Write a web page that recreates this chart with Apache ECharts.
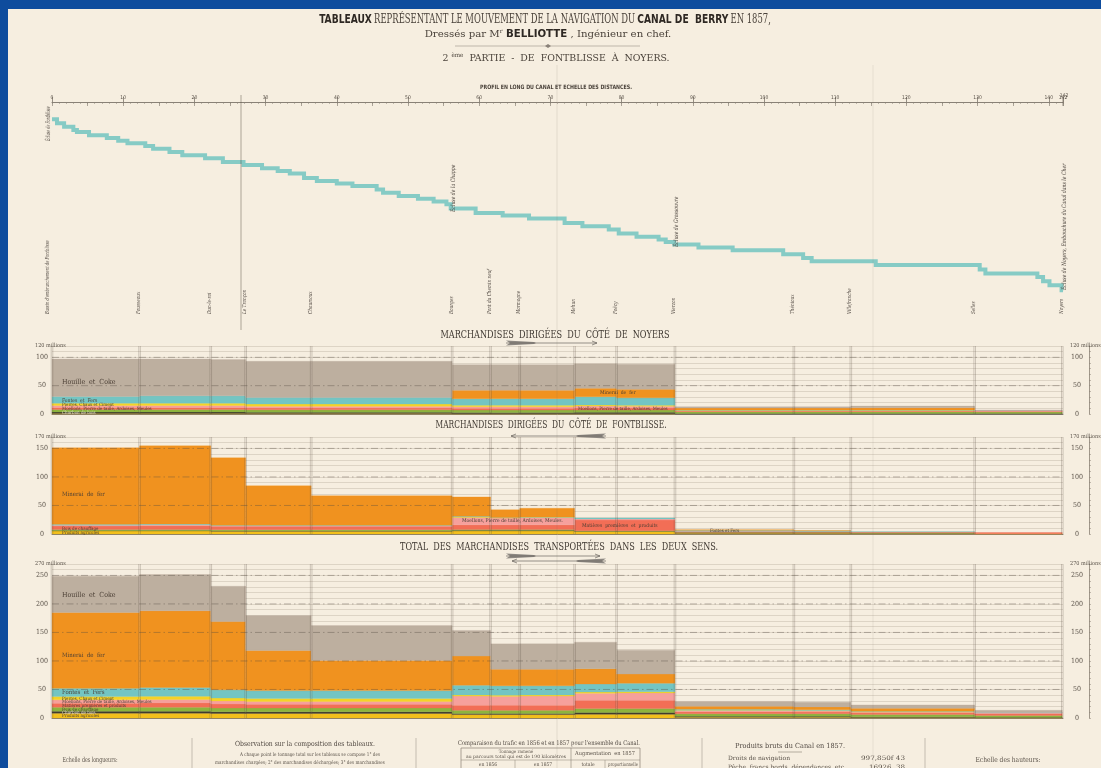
<!DOCTYPE html>
<html lang="fr">
<head>
<meta charset="utf-8">
<title>Canal de Berry 1857</title>
<script src="https://cdn.jsdelivr.net/npm/echarts@6/dist/echarts.min.js"></script>
<style>
  html, body { margin: 0; padding: 0; background: #f6eee0; overflow: hidden; }
  #chart { width: 1101px; height: 768px; }
  .bord { position: absolute; background: #0e4c9d; }
</style>
</head>
<body>
<div id="chart"></div>
<div class="bord" style="left:0;top:0;width:8px;height:768px"></div>
<div class="bord" style="left:0;top:0;width:1101px;height:9px"></div>
<script>
// stations along the canal, km from Fontblisse
const stationKm = [0, 12.3, 22.3, 27.2, 36.4, 56.2, 61.6, 65.7, 73.4, 79.3, 87.5, 104.2, 112.2, 129.6, 141.9];
const stationNames = ["Bassin d'embranchement de Fontblisse", 'Fousseaux', 'Dun-le-roi', 'Le Tronçon', 'Chaumoux',
  'Bourges', 'Pont du Chemin neuf', 'Marmagne', 'Mehun', 'Foëcy', 'Vierzon', 'Thénioux', 'Villefranche', 'Selles', 'Noyers'];

// profil en long : start of each reach (km) and water level (m)
const biefKm = [0, 0.7, 1.7, 3.0, 3.5, 5.2, 7.7, 9.3, 10.6, 13.1, 14.2, 16.5, 18.3, 21.5, 24.0, 26.9, 29.5, 31.7, 33.4, 35.4,
  37.2, 40.0, 42.2, 45.6, 46.5, 48.7, 51.4, 53.6, 55.4, 56.0, 59.5, 63.3, 67.0, 72.0, 74.5, 78.2, 79.6, 82.1, 85.2, 86.2,
  87.4, 90.8, 95.6, 102.7, 105.5, 106.7, 115.7, 130.3, 131.1, 138.4, 139.2, 140.1, 141.8];
const biefCote = [174.1, 171.6, 169.5, 167.4, 166.1, 164.0, 162.3, 160.6, 159.0, 157.3, 155.6, 153.5, 151.4, 149.5, 147.2,
  145.3, 143.2, 141.5, 140.0, 137.1, 135.2, 133.7, 132.0, 129.9, 127.8, 125.7, 124.0, 122.3, 120.6, 117.9, 115.1, 113.5,
  111.6, 108.8, 106.7, 104.7, 102.1, 100.0, 98.3, 96.8, 95.2, 93.3, 91.6, 89.1, 86.7, 84.6, 82.3, 79.4, 76.9, 74.7, 72.0,
  69.5, 66.3];
const canalEndKm = 142;

const ecluses = ['Écluse de Fontblisse', 'Écluse de la Chappe', 'Écluse de Grossouvre', 'Écluse de Noyers, Embouchure du Canal dans le Cher'];
const ecluseKm = [0, 56.2, 87.5, 141.9];

// goods, stacked bottom to top
const categories = ['Produits agricoles', 'Charbon de bois', 'Bois de chauffage', 'Matières premières et produits',
  'Moellons, Pierre de taille, Ardoises, Meules', 'Pierres, Chaux et Ciment', 'Fontes et Fers', 'Minerai de fer', 'Houille et Coke'];

// tonnage per section (14 sections between the 15 stations), one row per category
const versNoyers = [
  [1, 1, 1, 1, 1, 0.5, 0.5, 0.5, 0.5, 0.5, 0, 0, 0, 0],
  [2.5, 2.5, 2.5, 2, 2, 2, 2, 2, 2.5, 2.5, 1, 1, 1, 1],
  [4.5, 4.5, 4.5, 4.5, 4.5, 4.5, 4.5, 4.5, 4, 4, 3, 3, 3, 2.5],
  [3.5, 3.5, 3.5, 3, 3, 3, 3, 3, 3.5, 3.5, 1.5, 1.5, 1.5, 1.5],
  [3.5, 3.5, 3.5, 3, 3, 3, 3, 3, 3.5, 3, 0.5, 0.5, 0.5, 0.5],
  [4, 4, 4, 4, 4, 2.5, 2.5, 2.5, 2, 2, 0.5, 0.5, 0.5, 0],
  [12, 13, 13, 11.5, 11.5, 11.5, 11.5, 11.5, 14.5, 13, 0.5, 0.5, 0.5, 0],
  [0, 0, 0, 0, 0, 15, 15, 15, 15, 15, 3.5, 3.5, 4, 0],
  [66, 65, 64, 64, 64, 45, 45, 45, 43, 44.5, 2.5, 2.5, 3, 1.5]
];
const versFontblisse = [
  [5.5, 5.5, 5, 5, 5, 5.5, 5.5, 5.5, 4.5, 4.5, 1.5, 1.5, 1, 0.5],
  [0.5, 0.5, 0.5, 0.5, 0.5, 1, 1, 1, 0.5, 0.5, 1, 1, 0.5, 0],
  [2, 2, 2, 2, 2, 1.5, 1.5, 1.5, 0.5, 0.5, 0.5, 0.5, 0.5, 0],
  [6, 6.5, 6, 6, 6, 8, 8, 8, 19, 19, 1.5, 1, 1.5, 2],
  [1.5, 1.5, 1, 1, 1, 13, 12, 13, 2, 2, 0.5, 0.5, 0, 0],
  [0, 0, 0, 0, 0, 1, 0.5, 0.5, 0, 0, 0, 0, 0, 0],
  [1.5, 1.5, 1, 1, 1, 1, 0.5, 0.5, 1.5, 1.5, 1.5, 1, 0.5, 0],
  [134, 137, 118, 69, 51.5, 34, 13.5, 15, 0, 0, 1, 0.5, 0, 0],
  [0, 0, 0, 0, 0, 0, 0, 0, 0, 0, 0, 0, 0, 0]
];
const totalDeuxSens = [
  [8.5, 8.5, 8, 8, 8, 6, 6, 6, 6.5, 6.5, 1.5, 1.5, 1, 0.5],
  [3.5, 3.5, 3, 3, 3, 2, 2, 2, 3, 3, 1.5, 1.5, 1, 1],
  [7, 7, 6.5, 6.5, 6.5, 5.5, 5.5, 5.5, 7, 7, 4.5, 4.5, 4, 3],
  [7, 7.5, 7, 6.5, 6.5, 9, 9, 9, 14.5, 14.5, 3.5, 3, 3, 3.5],
  [6, 6, 5.5, 5, 5, 16, 15.5, 16, 12.5, 13, 2, 2, 1.5, 1],
  [5.5, 5.5, 5, 5, 5, 2, 2, 2, 2, 2, 0.5, 0.5, 0.5, 0],
  [14.5, 15.5, 14.5, 14, 14, 17, 16.5, 16, 14, 15, 2, 1.5, 1, 0.5],
  [133, 134.5, 119.5, 70.5, 53, 51, 29, 29, 27, 16, 5, 5, 5, 0],
  [63.5, 63.5, 62, 61, 61, 45, 44.5, 44.5, 46.5, 42, 8.5, 8, 6, 4]
];
const panelMax = [120, 170, 270];
const panelTitles = ['MARCHANDISES  DIRIGÉES  DU  CÔTÉ  DE  NOYERS', 'MARCHANDISES  DIRIGÉES  DU  CÔTÉ  DE  FONTBLISSE.',
  'TOTAL  DES  MARCHANDISES  TRANSPORTÉES  DANS  LES  DEUX  SENS.'];

// styles
const colors = ['#f2bf1c', '#403b2e', '#8db43e', '#f26e56', '#f6a09c', '#f5d327', '#73c5c3', '#f0921f', '#bdaf9f'];
const SERIF = "'DejaVu Serif Condensed', 'Liberation Serif', 'DejaVu Serif', serif";
const SANS = "'DejaVu Sans Condensed', 'Liberation Sans', 'DejaVu Sans', sans-serif";
const INK = '#3b342d';
const panelTop = [346, 437, 564];
const panelH = [68, 97, 154];
const titleY = [335, 425, 547];

const chart = echarts.init(document.getElementById('chart'));

function profilePoints() {
  const pts = [];
  biefKm.forEach((k, i) => {
    const next = i + 1 < biefKm.length ? biefKm[i + 1] : canalEndKm;
    pts.push([k, biefCote[i]], [next, biefCote[i]]);
  });
  return pts;
}

function bandRect(params, api) {
  const a = api.coord([api.value(0), api.value(3)]);
  const b = api.coord([api.value(1), api.value(2)]);
  const h = b[1] - a[1];
  if (h <= 0.01) return null;
  const c = api.visual('color');
  return { type: 'rect', shape: { x: a[0], y: a[1], width: b[0] - a[0], height: h }, style: { fill: c, stroke: c, lineWidth: 0.3 } };
}
function vLine(params, api) {
  const a = api.coord([api.value(0), api.value(1)]);
  const b = api.coord([api.value(0), api.value(2)]);
  const st = { stroke: 'rgba(90,80,68,0.45)', lineWidth: 0.6 };
  return { type: 'group', children: [
    { type: 'line', shape: { x1: a[0] - 0.8, y1: a[1], x2: b[0] - 0.8, y2: b[1] }, style: st },
    { type: 'line', shape: { x1: a[0] + 0.8, y1: a[1], x2: b[0] + 0.8, y2: b[1] }, style: st }
  ] };
}
function dashLine(params, api) {
  const a = api.coord([api.value(0), api.value(2)]);
  const b = api.coord([api.value(1), api.value(2)]);
  return { type: 'line', shape: { x1: a[0], y1: a[1], x2: b[0], y2: b[1] },
    style: { stroke: 'rgba(85,75,65,0.55)', lineWidth: 0.7, lineDash: [7, 3, 1.5, 3] } };
}

const rulerBase = { gridIndex: 0, type: 'value', min: 0, max: canalEndKm, position: 'top', offset: 8, splitLine: { show: false } };
const xAxes = [
  Object.assign({}, rulerBase, { interval: 10, axisLine: { lineStyle: { color: '#6d655b', width: 0.8 } },
    axisTick: { length: 5, lineStyle: { color: '#6d655b', width: 0.7 } },
    axisLabel: { fontSize: 5, color: '#5a5249', margin: 2, fontFamily: SANS } }),
  Object.assign({}, rulerBase, { interval: 5, axisLine: { show: false }, axisLabel: { show: false },
    axisTick: { inside: true, length: 4, lineStyle: { color: '#7a7266', width: 0.6 } } }),
  Object.assign({}, rulerBase, { interval: 1, axisLine: { show: false }, axisLabel: { show: false },
    axisTick: { inside: true, length: 2, lineStyle: { color: '#8a8276', width: 0.5 } } })
];
const yAxes = [{ gridIndex: 0, type: 'value', min: 40, max: 180, show: false }];
const grids = [{ left: 52, width: 1011, top: 110, height: 222 }];
const series = [{
  type: 'line', xAxisIndex: 0, yAxisIndex: 0, data: profilePoints(), showSymbol: false, silent: true, z: 3,
  lineStyle: { color: '#86cbc5', width: 4, join: 'miter', cap: 'butt' }
}];

const tickFmt = mx => v => (v % 50 === 0 && v !== mx) ? String(v) : '';
[versNoyers, versFontblisse, totalDeuxSens].forEach((rows, p) => {
  const mx = panelMax[p];
  grids.push({ left: 52, width: 1011, top: panelTop[p], height: panelH[p] });
  xAxes.push({ gridIndex: p + 1, type: 'value', min: 0, max: canalEndKm, position: 'bottom',
    axisLine: { lineStyle: { color: '#6a6157', width: 0.8 } }, axisTick: { show: false }, axisLabel: { show: false }, splitLine: { show: false } });
  const common = { gridIndex: p + 1, type: 'value', min: 0, max: mx, interval: 10 };
  const lab = { formatter: tickFmt(mx), align: 'center', fontSize: 7, color: '#5a5249', fontFamily: SERIF };
  yAxes.push(Object.assign({}, common, { position: 'left', axisLine: { show: false }, axisTick: { show: false },
    axisLabel: Object.assign({ margin: 10 }, lab), splitLine: { lineStyle: { color: 'rgba(110,95,80,0.3)', width: 0.6 } } }));
  yAxes.push(Object.assign({}, common, { position: 'right', axisLine: { show: false }, axisTick: { show: false },
    axisLabel: Object.assign({ margin: 14 }, lab), splitLine: { show: false } }));
  yAxes.push(Object.assign({}, common, { position: 'right', offset: 26,
    axisLine: { show: true, lineStyle: { color: '#8a8074', width: 0.8 } },
    axisTick: { show: true, length: 2, lineStyle: { color: '#8a8074', width: 0.5 } },
    axisLabel: { show: false }, splitLine: { show: false } }));
  const xi = 3 + p, yi = 1 + 3 * p;
  const base = rows[0].map(() => 0);
  rows.forEach((row, c) => {
    series.push({
      type: 'custom', name: categories[c], xAxisIndex: xi, yAxisIndex: yi, z: 2, silent: true,
      itemStyle: { color: colors[c] }, encode: { x: [0, 1], y: [2, 3] }, renderItem: bandRect,
      data: row.map((v, s) => { const d = [stationKm[s], stationKm[s + 1], base[s], base[s] + v]; base[s] += v; return d; })
    });
  });
  series.push({ type: 'custom', xAxisIndex: xi, yAxisIndex: yi, z: 4, silent: true, encode: { x: 0, y: [1, 2] },
    data: stationKm.map(k => [k, 0, mx]), renderItem: vLine });
  const fifties = [];
  for (let v = 50; v < mx; v += 50) fifties.push([0, stationKm[stationKm.length - 1], v]);
  series.push({ type: 'custom', xAxisIndex: xi, yAxisIndex: yi, z: 4, silent: true, encode: { x: [0, 1], y: 2 },
    data: fifties, renderItem: dashLine });
});

chart.setOption({ animation: false, grid: grids, xAxis: xAxes, yAxis: yAxes, series: series });

// ---- texts and ornaments ----
const mctx = document.createElement('canvas').getContext('2d');
function textW(str, size, fam, weight, style) {
  mctx.font = (style || 'normal') + ' ' + (weight || 'normal') + ' ' + size + 'px ' + fam;
  return mctx.measureText(str).width;
}
function T(x, y, str, o) {
  o = o || {};
  const size = o.size || 6, fam = o.family || SERIF;
  let sx = o.sx || 1;
  if (o.width) sx = o.width / textW(str, size, fam, o.weight, o.style);
  return { type: 'text', x: x, y: y, rotation: o.rot || 0, scaleX: sx, silent: true, z: 100,
    style: { text: str, fill: o.color || INK, fontSize: size, fontFamily: fam, fontWeight: o.weight || 'normal',
      fontStyle: o.style || 'normal', align: o.align || 'left', verticalAlign: 'middle' } };
}
function L(x1, y1, x2, y2, color, w, dash) {
  return { type: 'line', silent: true, z: 90, shape: { x1: x1, y1: y1, x2: x2, y2: y2 },
    style: { stroke: color || '#6a6157', lineWidth: w || 0.8, lineDash: dash || null } };
}
function arrow(tail, head, y) {
  const d = head > tail ? 1 : -1;
  return [
    { type: 'polygon', silent: true, z: 90, shape: { points: [[tail, y - 2.6], [tail + d * 28, y - 1], [tail + d * 30, y], [tail + d * 28, y + 1], [tail, y + 2.6], [tail + d * 4, y]] },
      style: { fill: '#8c8781' } },
    L(tail, y, head, y, '#6a645e', 0.7),
    { type: 'polyline', silent: true, z: 90, shape: { points: [[head - d * 5, y - 2], [head, y], [head - d * 5, y + 2]] },
      style: { stroke: '#6a645e', lineWidth: 0.7, fill: null } }
  ];
}
function richT(x, y, text, parts, rich, width) {
  const w = parts.reduce((s, q) => s + textW(q[0], q[1], q[2], q[3]), 0);
  return { type: 'text', x: x, y: y, scaleX: width / w, silent: true, z: 100,
    style: { text: text, align: 'center', verticalAlign: 'middle', fill: '#4a423a', fontSize: 10, fontFamily: SERIF, rich: rich } };
}

const kx = km => chart.convertToPixel({ xAxisIndex: 0 }, km);
const g = [];

// title block
g.push(richT(545, 20, '{b|TABLEAUX} {n|REPRÉSENTANT LE MOUVEMENT DE LA NAVIGATION DU} {b|CANAL DE  BERRY} {n|EN 1857,}',
  [['TABLEAUX ', 13, SANS, 'bold'], ['REPRÉSENTANT LE MOUVEMENT DE LA NAVIGATION DU ', 12, SERIF], ['CANAL DE  BERRY ', 13, SANS, 'bold'], ['EN 1857,', 12, SERIF]],
  { b: { fontSize: 13, fontFamily: SANS, fontWeight: 'bold', fill: '#2e2823' }, n: { fontSize: 12, fontFamily: SERIF, fill: '#4a423a' } }, 454));
g.push(richT(548, 34, 'Dressés par M{s|r} {b|BELLIOTTE} , Ingénieur en chef.',
  [['Dressés par M', 10, SERIF], ['r', 6, SERIF], [' BELLIOTTE', 10, SANS, 'bold'], [' , Ingénieur en chef.', 10, SERIF]],
  { s: { fontSize: 6, fontFamily: SERIF, fill: '#4a423a', verticalAlign: 'top', padding: [0, 0, 5, 0] },
    b: { fontSize: 10, fontFamily: SANS, fontWeight: 'bold', fill: '#2e2823' } }, 247));
g.push(L(455, 46, 640, 46, '#9a9188', 0.6));
g.push({ type: 'polygon', silent: true, z: 91, shape: { points: [[548, 44], [551, 46], [548, 48], [545, 46]] }, style: { fill: '#8a8178' } });
g.push(richT(556, 58, '2 {s|ème}  PARTIE  -  DE  FONTBLISSE  À  NOYERS.',
  [['2 ', 10, SERIF], ['ème', 6, SERIF], ['  PARTIE  -  DE  FONTBLISSE  À  NOYERS.', 10, SERIF]],
  { s: { fontSize: 6, fontFamily: SERIF, fill: '#4a423a', padding: [0, 0, 5, 0] } }, 227));
g.push(T(556, 87, 'PROFIL EN LONG DU CANAL ET ECHELLE DES DISTANCES.', { size: 6, width: 152, align: 'center', family: SANS, weight: 'bold', color: '#4a423a' }));
g.push(T(kx(canalEndKm) + 1, 96, '142', { size: 5, family: SANS, color: '#5a5249', align: 'center' }));
g.push(L(kx(canalEndKm), 97, kx(canalEndKm), 106, '#6d655b', 0.7));

// paper creases
g.push(L(241, 95, 241, 330, 'rgba(80,70,60,0.45)', 1));
g.push(L(557, 65, 557, 768, 'rgba(120,110,95,0.15)', 1));
g.push(L(873, 65, 873, 768, 'rgba(120,110,95,0.12)', 1));

// lock and station names on the profile
const ecluseBottom = [141, 212, 247, 290];
const ecluseDx = [-4, 1, 1, 2];
ecluses.forEach((name, i) => g.push(T(kx(ecluseKm[i]) + ecluseDx[i], ecluseBottom[i], name,
  { size: 6, sx: i === 0 ? 0.62 : 0.85, style: 'italic', rot: Math.PI / 2, color: '#4f4740' })));
stationNames.forEach((name, i) => g.push(T(kx(stationKm[i]) - (i === 0 ? 4 : 1), 314, name,
  { size: 5.5, sx: i === 0 ? 0.75 : 0.85, style: 'italic', rot: Math.PI / 2, color: '#4f4740' })));

// panel titles, arrows, unit labels
const titleW = [229, 231, 318];
const titleX = [555, 551, 559];
panelTitles.forEach((t, p) => {
  g.push(T(titleX[p], titleY[p], t, { size: 11, width: titleW[p], align: 'center', color: '#3f3831' }));
  g.push(T(35, panelTop[p], panelMax[p] + ' millions', { size: 5.5, color: '#5a5249' }));
  g.push(T(1070, panelTop[p], panelMax[p] + ' millions', { size: 5.5, color: '#5a5249' }));
});
arrow(506, 597, 343).forEach(e => g.push(e));
arrow(606, 511, 436).forEach(e => g.push(e));
arrow(506, 600, 556).forEach(e => g.push(e));
arrow(606, 512, 561).forEach(e => g.push(e));

// names written inside the bands
const bandLabels = [
  [62, 382, 'Houille  et  Coke', 7], [62, 401, 'Fontes  et  Fers', 5], [62, 405, 'Pierres, Chaux et Ciment', 4.5],
  [62, 408.5, 'Moellons, Pierre de taille, Ardoises, Meules', 4.5], [62, 413, 'Charbon de bois', 4.5],
  [600, 393, 'Minerai  de  fer', 5], [578, 408.5, 'Moellons, Pierre de taille, Ardoises, Meules', 4.5],
  [62, 494, 'Minerai  de  fer', 6], [62, 528.5, 'Bois de chauffage', 4.5], [62, 532.5, 'Produits agricoles', 4.5],
  [462, 521, 'Moellons, Pierre de taille, Ardoises, Meules.', 5], [582, 525.5, 'Matières  premières  et  produits', 5],
  [710, 531, 'Fontes et Fers', 4.5],
  [62, 595, 'Houille  et  Coke', 7], [62, 655, 'Minerai  de  fer', 6], [62, 692, 'Fontes  et  Fers', 6],
  [62, 698.5, 'Pierres, Chaux et Ciment', 4.5], [62, 702, 'Moellons, Pierre de taille, Ardoises, Meules', 4.5],
  [62, 705.5, 'Matières premières et produits', 4.5], [62, 709.5, 'Bois de chauffage', 4.5],
  [62, 712.5, 'Charbon de bois', 4.5], [62, 716, 'Produits agricoles', 4.5]
];
bandLabels.forEach(b => g.push(T(b[0], b[1], b[2], { size: b[3], color: b[2] === 'Charbon de bois' ? '#e8e0d0' : '#4a3e34' })));

// bottom notes
[192, 416, 702, 925].forEach(x => g.push(L(x, 738, x, 768, '#b0a79c', 0.7)));
g.push(T(90, 760, 'Echelle des longueurs:', { size: 7, width: 55, align: 'center', color: '#5a5249' }));
g.push(T(305, 744, 'Observation sur la composition des tableaux.', { size: 7, width: 140, align: 'center', color: '#4f4740' }));
g.push(T(310, 755, 'A chaque point le tonnage total sur les tableaux se compose 1° des', { size: 5, width: 140, align: 'center', color: '#5a5249' }));
g.push(T(300, 763, 'marchandises chargées; 2° des marchandises déchargées; 3° des marchandises', { size: 5, width: 170, align: 'center', color: '#5a5249' }));
g.push(T(549, 743, "Comparaison du trafic en 1856 et en 1857 pour l'ensemble du Canal.", { size: 6.5, width: 182, align: 'center', color: '#4f4740' }));
g.push({ type: 'rect', silent: true, z: 90, shape: { x: 461, y: 748, width: 179, height: 24 }, style: { fill: null, stroke: '#8a8074', lineWidth: 0.7 } });
g.push(L(571, 748, 571, 768, '#8a8074', 0.6));
g.push(L(461, 760, 640, 760, '#8a8074', 0.5));
g.push(L(515, 760, 515, 768, '#8a8074', 0.5));
g.push(L(605, 760, 605, 768, '#8a8074', 0.5));
g.push(T(516, 751.5, 'Tonnage ramené', { size: 4.5, align: 'center', color: '#5a5249' }));
g.push(T(516, 756.5, 'au parcours total qui est de 190 kilomètres', { size: 4.5, width: 100, align: 'center', color: '#5a5249' }));
g.push(T(605, 754, 'Augmentation  en 1857', { size: 5.5, width: 60, align: 'center', color: '#5a5249' }));
g.push(T(488, 765, 'en 1856', { size: 5, align: 'center', color: '#5a5249' }));
g.push(T(543, 765, 'en 1857', { size: 5, align: 'center', color: '#5a5249' }));
g.push(T(588, 765, 'totale', { size: 5, align: 'center', color: '#5a5249' }));
g.push(T(623, 765, 'proportionnelle', { size: 5, width: 30, align: 'center', color: '#5a5249' }));
g.push(T(790, 746, 'Produits bruts du Canal en 1857.', { size: 7, width: 110, align: 'center', color: '#4f4740' }));
g.push(L(778, 752, 802, 752, '#8a8074', 0.6));
g.push(T(728, 758, 'Droits de navigation', { size: 6, width: 62, color: '#5a5249' }));
g.push(T(905, 758, '997,850f 43', { size: 6, width: 44, align: 'right', color: '#5a5249' }));
g.push(T(728, 767, 'Pêche, francs bords, dépendances, etc.', { size: 6, width: 118, color: '#5a5249' }));
g.push(T(905, 767, '16926  38', { size: 6, width: 36, align: 'right', color: '#5a5249' }));
g.push(T(1008, 760, 'Echelle des hauteurs:', { size: 7, width: 65, align: 'center', color: '#5a5249' }));

chart.setOption({ graphic: g });
</script>
</body>
</html>
